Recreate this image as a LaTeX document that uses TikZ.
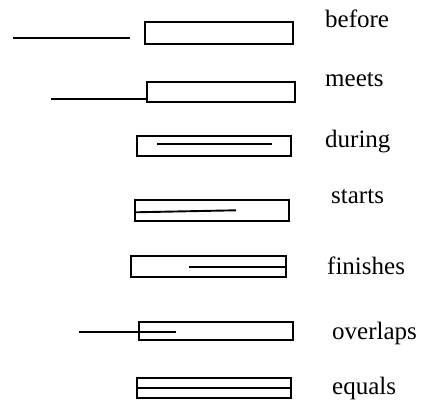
\documentclass[tikz,border=0pt]{standalone}
\usepackage{fontspec}
\setmainfont{Liberation Serif}
\begin{document}
\begin{tikzpicture}[x=1pt,y=-1pt,
  ln/.style={line width=1.9pt},
  bar/.style={draw,ln,rectangle,inner sep=0pt,outer sep=0pt,minimum width=154pt,minimum height=20pt},
  lbl/.style={anchor=base west,inner sep=0pt,font=\fontsize{25}{28}\selectfont}]
\useasboundingbox (0,0) rectangle (422,401);
% before
\node[bar,minimum width=148pt,minimum height=22pt] (before) at (219,33) {};
\coordinate (b1) at (13,38.3);
\coordinate (b2) at (130,38.3);
\draw[ln] (b1) -- (b2);
\node[lbl] (lbefore) at (325,28) {before};
% meets
\node[bar,minimum width=148pt,minimum height=20pt] (meets) at (221,92) {};
\coordinate (m1) at (51,98.7);
\draw[ln] (m1) -- (m1 -| meets.west);
\node[lbl] (lmeets) at (325,87) {meets};
% during
\node[bar] (during) at (214,146) {};
\coordinate (d1) at (157,144.3);
\coordinate (d2) at (272,144.3);
\draw[ln] (d1) -- (d2);
\node[lbl] (lduring) at (325,147) {during};
% starts
\node[bar,minimum height=21pt] (starts) at (212,210.5) {};
\coordinate (s1) at (135,212.3);
\coordinate (s2) at (236,210.3);
\draw[ln] (s1) -- (s2);
\node[lbl] (lstarts) at (331,203) {starts};
% finishes
\node[bar,minimum width=155pt,minimum height=21pt] (finishes) at (208.5,266.5) {};
\coordinate (f1) at (189,266.7);
\draw[ln] (f1) -- (f1 -| finishes.east);
\node[lbl] (lfinishes) at (327,274) {finishes};
% overlaps
\node[bar,minimum height=18pt] (overlaps) at (216,331.3) {};
\coordinate (o1) at (79,332.3);
\coordinate (o2) at (176,332.3);
\draw[ln] (o1) -- (o2);
\node[lbl] (loverlaps) at (332,339) {overlaps};
% equals
\node[bar] (equals) at (214.3,388.3) {};
\draw[ln] (equals.west) -- (equals.east);
\node[lbl] (lequals) at (332,394) {equals};
\end{tikzpicture}
\end{document}
